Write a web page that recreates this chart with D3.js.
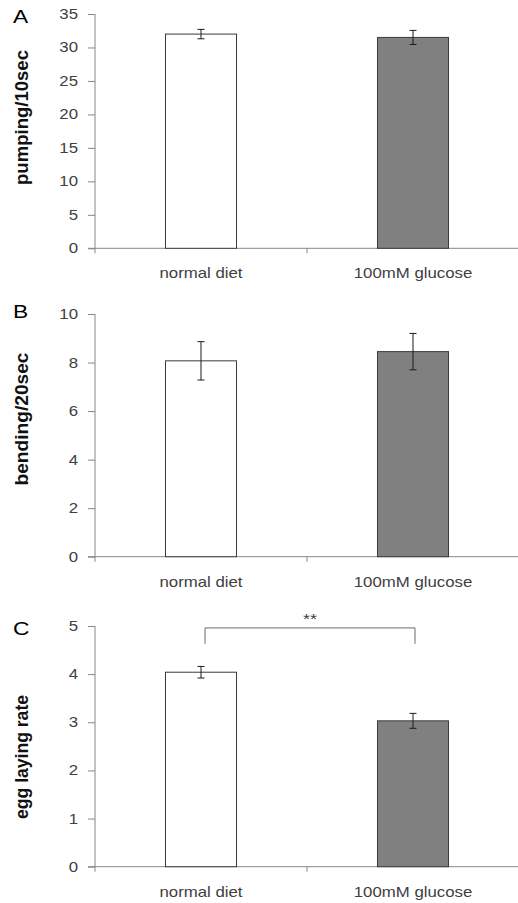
<!DOCTYPE html>
<html lang="en">
<head>
  <meta charset="UTF-8">
  <title>Pumping, bending and egg laying</title>
  <script src="https://d3js.org/d3.v7.min.js"></script>
  <style>
    body { margin: 0; background: #fff; }
    text { font-family: "Liberation Sans", Arial, sans-serif; }
  </style>
</head>
<body>
  <svg width="518" height="903"></svg>
  <script>
    // data
    const categories = ["normal diet", "100mM glucose"];
    const barFills = ["#ffffff", "#808080"];

    const pumpingMean = [32.0, 31.5];
    const pumpingErr = [0.7, 1.05];
    const pumpingTicks = [0, 5, 10, 15, 20, 25, 30, 35];

    const bendingMean = [8.07, 8.45];
    const bendingErr = [0.79, 0.75];
    const bendingTicks = [0, 2, 4, 6, 8, 10];

    const eggMean = [4.04, 3.03];
    const eggErr = [0.12, 0.155];
    const eggTicks = [0, 1, 2, 3, 4, 5];

    // significance bracket for panel C (in data units)
    const sigTop = 4.96, sigLeg = 4.63, sigText = "**";

    const svg = d3.select("svg");
    const sx = 1.2; // the source figure is stretched a bit horizontally

    const x = d3.scaleBand()
        .domain(categories)
        .range([95, 519])
        .paddingInner(0.665)
        .paddingOuter(0.3325);

    const panels = [
      { letter: "A", label: "pumping/10sec", labelLen: 135, labelY: 117.5, letterY: 23,
        mean: pumpingMean, err: pumpingErr, ticks: pumpingTicks, top: 14, bottom: 248.3 },
      { letter: "B", label: "bending/20sec", labelLen: 133, labelY: 419, letterY: 318,
        mean: bendingMean, err: bendingErr, ticks: bendingTicks, top: 314, bottom: 556.7 },
      { letter: "C", label: "egg laying rate", labelLen: 124, labelY: 757, letterY: 635,
        mean: eggMean, err: eggErr, ticks: eggTicks, top: 626, bottom: 866.7, sig: true }
    ];

    panels.forEach(drawPanel);

    function drawPanel(p) {
      const y = d3.scaleLinear()
          .domain([0, d3.max(p.ticks)])
          .range([p.bottom, p.top]);
      const g = svg.append("g");
      const axisColor = "#878787";

      // y axis
      const yAxis = g.append("g")
          .attr("transform", "translate(95,0)")
          .call(d3.axisLeft(y).tickValues(p.ticks).tickFormat(d3.format("d"))
            .tickSize(7).tickPadding(10).tickSizeOuter(0));
      yAxis.select(".domain").remove();
      yAxis.selectAll("line").attr("stroke", axisColor);
      yAxis.selectAll("text")
          .attr("x", null)
          .attr("transform", `translate(-17,0) scale(${sx},1)`)
          .attr("font-size", 14)
          .attr("fill", "#404040");
      g.append("line")
          .attr("x1", 95).attr("x2", 95)
          .attr("y1", y(d3.max(p.ticks))).attr("y2", y(0) + 5)
          .attr("stroke", axisColor);

      // x axis with ticks on category boundaries
      g.append("line")
          .attr("x1", 88).attr("x2", 518)
          .attr("y1", y(0)).attr("y2", y(0))
          .attr("stroke", axisColor);
      const bounds = [x.step(), 2 * x.step()].map(s => x.range()[0] + s);
      g.selectAll(".xtick")
        .data(bounds)
        .join("line")
          .attr("x1", d => d).attr("x2", d => d)
          .attr("y1", y(0)).attr("y2", y(0) + 5)
          .attr("stroke", axisColor);

      g.selectAll(".xlabel")
        .data(categories)
        .join("text")
          .attr("transform", d => `translate(${x(d) + x.bandwidth() / 2},${y(0) + 30}) scale(${sx},1)`)
          .attr("text-anchor", "middle")
          .attr("font-size", 14)
          .attr("fill", "#404040")
          .text(d => d);

      // bars
      g.selectAll(".bar")
        .data(categories)
        .join("rect")
          .attr("x", d => x(d))
          .attr("width", x.bandwidth())
          .attr("y", (d, i) => y(p.mean[i]))
          .attr("height", (d, i) => y(0) - y(p.mean[i]))
          .attr("fill", (d, i) => barFills[i])
          .attr("stroke", "#3a3a3a");

      // error bars
      const eb = g.selectAll(".err")
        .data(categories)
        .join("g")
          .attr("stroke", "#1a1a1a");
      eb.append("line")
          .attr("x1", d => x(d) + x.bandwidth() / 2)
          .attr("x2", d => x(d) + x.bandwidth() / 2)
          .attr("y1", (d, i) => y(p.mean[i] + p.err[i]))
          .attr("y2", (d, i) => y(p.mean[i] - p.err[i]));
      [1, -1].forEach(s => {
        eb.append("line")
            .attr("x1", d => x(d) + x.bandwidth() / 2 - 3.5)
            .attr("x2", d => x(d) + x.bandwidth() / 2 + 3.5)
            .attr("y1", (d, i) => y(p.mean[i] + s * p.err[i]))
            .attr("y2", (d, i) => y(p.mean[i] + s * p.err[i]));
      });

      // axis title and panel letter
      g.append("text")
          .attr("transform", `translate(28,${p.labelY}) scale(${sx},1) rotate(-90)`)
          .attr("text-anchor", "middle")
          .attr("font-size", 16)
          .attr("font-weight", "bold")
          .attr("fill", "#111")
          .attr("textLength", p.labelLen)
          .attr("lengthAdjust", "spacingAndGlyphs")
          .text(p.label);
      g.append("text")
          .attr("transform", `translate(13,${p.letterY}) scale(${sx},1)`)
          .attr("font-size", 19)
          .attr("fill", "#000")
          .text(p.letter);

      if (p.sig) {
        const x1 = x(categories[0]) + x.bandwidth() / 2 + 4;
        const x2 = x(categories[1]) + x.bandwidth() / 2 + 2;
        g.append("path")
            .attr("d", d3.line()([[x1, y(sigLeg)], [x1, y(sigTop)], [x2, y(sigTop)], [x2, y(sigLeg)]]))
            .attr("fill", "none")
            .attr("stroke", "#6a6a6a");
        g.append("text")
            .attr("transform", `translate(${(x1 + x2) / 2},${y(sigTop) - 4}) scale(${sx},1)`)
            .attr("text-anchor", "middle")
            .attr("font-size", 15)
            .attr("fill", "#404040")
            .text(sigText);
      }
    }
  </script>
</body>
</html>
